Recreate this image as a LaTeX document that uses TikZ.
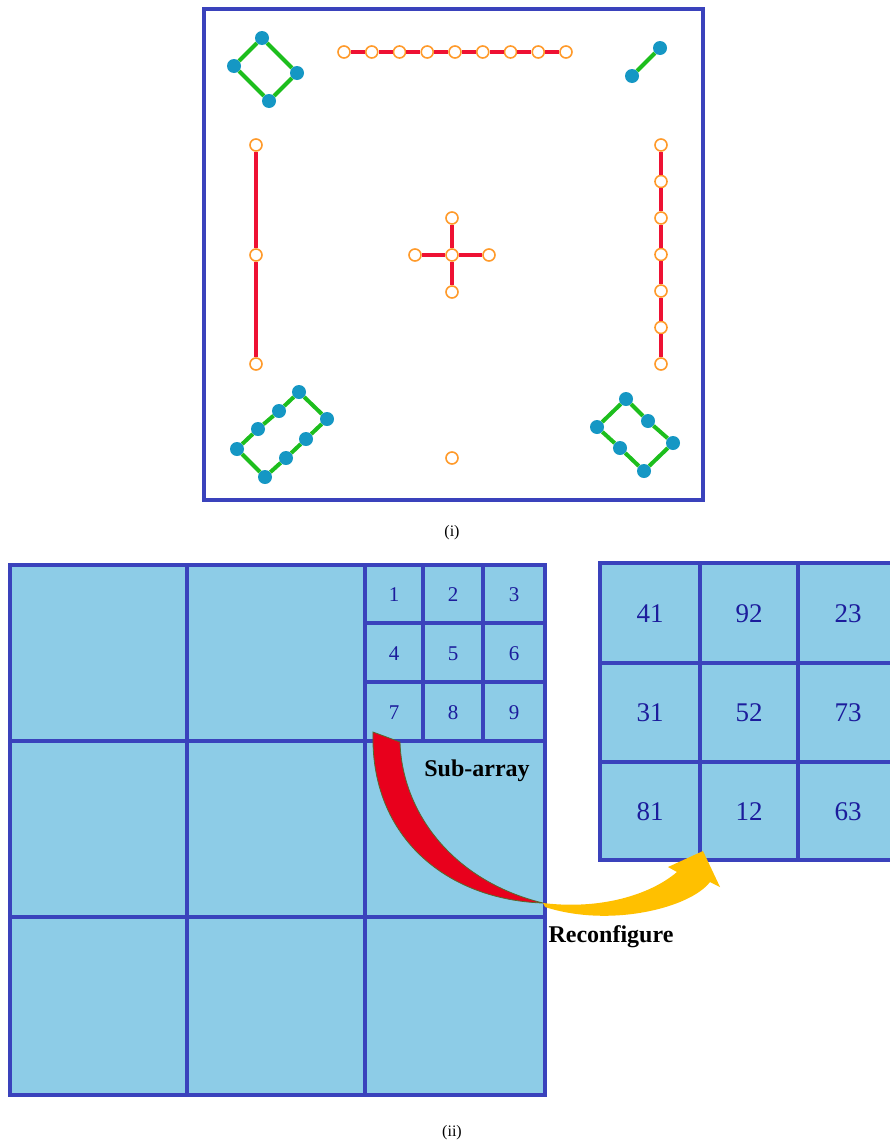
\documentclass[tikz,border=0pt]{standalone}
\usepackage{fontspec}
\setmainfont{Liberation Serif}
\definecolor{frameblue}{HTML}{3A42BC}
\definecolor{cellblue}{HTML}{8DCCE7}
\definecolor{numblue}{HTML}{1C1C9C}
\definecolor{redline}{HTML}{EE1133}
\definecolor{orangec}{HTML}{FF9A2A}
\definecolor{greenl}{HTML}{1DBE1D}
\definecolor{dotblue}{HTML}{1597C4}
\definecolor{arrred}{HTML}{E8001C}
\definecolor{arryel}{HTML}{FFC000}
\definecolor{arrborder}{HTML}{556B2F}
\begin{document}
\begin{tikzpicture}[x=1pt,y=-1pt,
  oc/.style={circle,draw=orangec,fill=white,line width=1.6pt,minimum size=12pt,inner sep=0pt},
  bd/.style={circle,fill=dotblue,minimum size=14pt,inner sep=0pt},
  redlink/.style={draw=redline,line width=4pt},
  greenlink/.style={draw=greenl,line width=4pt},
  gridline/.style={draw=frameblue,line width=4.5pt},
  smallnum/.style={text=numblue,font=\fontsize{21}{21}\selectfont,inner sep=0pt},
  bignum/.style={text=numblue,font=\fontsize{27}{27}\selectfont,inner sep=0pt},
  boldlabel/.style={font=\bfseries\fontsize{24}{24}\selectfont,inner sep=0pt},
  caption/.style={font=\fontsize{16}{16}\selectfont,inner sep=0pt}]
\useasboundingbox (0,0) rectangle (890,1146);
\clip (0,0) rectangle (890,1146);
\fill[white] (0,0) rectangle (890,1146);

% ---------- part (i) ----------
\draw[frameblue,line width=4pt] (204,9) rectangle (703,500);

% top-left diamond
\node[bd] (d1) at (262,38) {};
\node[bd] (d2) at (234,66) {};
\node[bd] (d3) at (297,73) {};
\node[bd] (d4) at (269,101) {};
\draw[greenlink] (d1) -- (d2);
\draw[greenlink] (d1) -- (d3);
\draw[greenlink] (d2) -- (d4);
\draw[greenlink] (d3) -- (d4);

% top-right pair
\node[bd] (p1) at (660,48) {};
\node[bd] (p2) at (632,76) {};
\draw[greenlink] (p1) -- (p2);

% top horizontal chain
\foreach \i in {0,...,8} {
  \node[oc] (t\i) at ({344+27.75*\i},52) {};
}
\foreach \i [evaluate=\i as \j using int(\i+1)] in {0,...,7} {
  \draw[redlink] (t\i) -- (t\j);
}

% left vertical chain
\node[oc] (l0) at (256,145) {};
\node[oc] (l1) at (256,255) {};
\node[oc] (l2) at (256,364) {};
\draw[redlink] (l0) -- (l1);
\draw[redlink] (l1) -- (l2);

% right vertical chain
\foreach \i in {0,...,6} {
  \node[oc] (r\i) at (661,{145+36.5*\i}) {};
}
\foreach \i [evaluate=\i as \j using int(\i+1)] in {0,...,5} {
  \draw[redlink] (r\i) -- (r\j);
}

% centre cross
\node[oc] (cc) at (452,255) {};
\node[oc] (cl) at (415,255) {};
\node[oc] (cr) at (489,255) {};
\node[oc] (ct) at (452,218) {};
\node[oc] (cb) at (452,292) {};
\draw[redlink] (cc) -- (cl);
\draw[redlink] (cc) -- (cr);
\draw[redlink] (cc) -- (ct);
\draw[redlink] (cc) -- (cb);

% bottom single
\node[oc] (bs) at (452,458) {};

% bottom-left rectangle
\node[bd] (a1) at (299,392) {};
\node[bd] (a2) at (279,411) {};
\node[bd] (a3) at (258,429) {};
\node[bd] (a4) at (237,449) {};
\node[bd] (a5) at (265,477) {};
\node[bd] (a6) at (286,458) {};
\node[bd] (a7) at (306,439) {};
\node[bd] (a8) at (327,419) {};
\draw[greenlink] (a1) -- (a2);
\draw[greenlink] (a2) -- (a3);
\draw[greenlink] (a3) -- (a4);
\draw[greenlink] (a4) -- (a5);
\draw[greenlink] (a5) -- (a6);
\draw[greenlink] (a6) -- (a7);
\draw[greenlink] (a7) -- (a8);
\draw[greenlink] (a8) -- (a1);

% bottom-right rectangle
\node[bd] (b1) at (626,399) {};
\node[bd] (b2) at (648,421) {};
\node[bd] (b3) at (673,443) {};
\node[bd] (b4) at (644,471) {};
\node[bd] (b5) at (620,448) {};
\node[bd] (b6) at (597,427) {};
\draw[greenlink] (b1) -- (b2);
\draw[greenlink] (b2) -- (b3);
\draw[greenlink] (b3) -- (b4);
\draw[greenlink] (b4) -- (b5);
\draw[greenlink] (b5) -- (b6);
\draw[greenlink] (b6) -- (b1);

\node[caption] (capi) at (452,533) {(i)};

% ---------- part (ii) ----------
% large array
\fill[cellblue] (10,565) rectangle (545,1095);
\draw[gridline] (10,565) rectangle (545,1095);
\draw[gridline] (187,565) -- (187,1095);
\draw[gridline] (365,565) -- (365,1095);
\draw[gridline] (10,741) -- (545,741);
\draw[gridline] (10,917) -- (545,917);
% sub-array
\draw[gridline] (423,565) -- (423,741);
\draw[gridline] (483,565) -- (483,741);
\draw[gridline] (365,623) -- (545,623);
\draw[gridline] (365,682) -- (545,682);
\node[smallnum] (n1) at (394,595) {1};
\node[smallnum] (n2) at (453,595) {2};
\node[smallnum] (n3) at (514,595) {3};
\node[smallnum] (n4) at (394,654) {4};
\node[smallnum] (n5) at (453,654) {5};
\node[smallnum] (n6) at (514,654) {6};
\node[smallnum] (n7) at (394,713) {7};
\node[smallnum] (n8) at (453,713) {8};
\node[smallnum] (n9) at (514,713) {9};

% reconfigured array
\fill[cellblue] (600,563) rectangle (897,860);
\draw[gridline] (600,563) rectangle (897,860);
\draw[gridline] (700,563) -- (700,860);
\draw[gridline] (798,563) -- (798,860);
\draw[gridline] (600,663) -- (897,663);
\draw[gridline] (600,762) -- (897,762);
\node[bignum] (m11) at (650,614) {41};
\node[bignum] (m12) at (749,614) {92};
\node[bignum] (m13) at (848,614) {23};
\node[bignum] (m21) at (650,713) {31};
\node[bignum] (m22) at (749,713) {52};
\node[bignum] (m23) at (848,713) {73};
\node[bignum] (m31) at (650,812) {81};
\node[bignum] (m32) at (749,812) {12};
\node[bignum] (m33) at (848,812) {63};

% curved arrow
\filldraw[fill=arrred,draw=arrborder,line width=0.8pt]
  (373,732) -- (400,742) .. controls (402,810) and (450,880) .. (543,903)
  .. controls (450,900) and (370,840) .. (373,732) -- cycle;
\fill[arryel]
  (543,903) .. controls (600,910) and (650,895) .. (677,872)
  -- (668,867) -- (703,851) -- (720,887) -- (710,882)
  .. controls (690,908) and (610,928) .. (545,907) -- cycle;

\node[boldlabel] (sub) at (477,771) {Sub-array};
\node[boldlabel] (rec) at (611,937) {Reconfigure};

\node[caption] (capii) at (452,1133) {(ii)};
\end{tikzpicture}
\end{document}
